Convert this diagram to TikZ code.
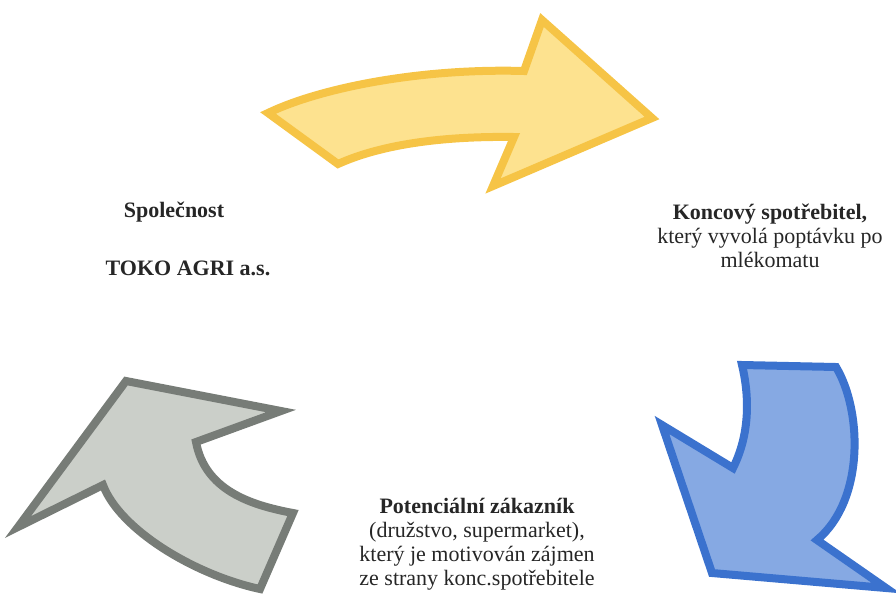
\documentclass[tikz,border=0pt]{standalone}
\usepackage{fontspec}
\setmainfont{LiberationSerif}[Extension=.ttf, UprightFont=*-Regular, BoldFont=*-Bold, ItalicFont=*-Italic, BoldItalicFont=*-BoldItalic]
\definecolor{yelline}{HTML}{F6C446}
\definecolor{yelfill}{HTML}{FDE28F}
\definecolor{blueline}{HTML}{3B72CE}
\definecolor{bluefill}{HTML}{86A9E3}
\definecolor{grayline}{HTML}{777C77}
\definecolor{grayfill}{HTML}{CBCFC9}
\tikzset{
  bigarrow/.style={line width=8pt, line join=miter, miter limit=10},
  lbl/.style={anchor=base, align=center, font=\fontsize{22}{24}\selectfont, inner sep=0pt, text=black!85},
}
\begin{document}
\begin{tikzpicture}[x=1pt,y=-1pt]
\path[use as bounding box] (0,0) rectangle (896,598);
% yellow arrow
\draw[bigarrow, draw=yelline, fill=yelfill]
  (268,113) .. controls (320,88) and (420,68) .. (524,71)
  -- (542,20) -- (652,118) -- (493,186) -- (514,137)
  .. controls (440,136) and (380,145) .. (338,164) -- cycle;
% blue arrow
\draw[bigarrow, draw=blueline, fill=bluefill]
  (742,365) -- (836,367) .. controls (862,410) and (865,500) .. (817,540)
  -- (886,588) -- (712,573) -- (662,425) -- (733,468)
  .. controls (752,430) and (748,390) .. cycle;
% gray arrow
\draw[bigarrow, draw=grayline, fill=grayfill]
  (126,381) -- (281,411) -- (196,442)
  .. controls (205,490) and (250,505) .. (293,513)
  -- (260,589) .. controls (195,575) and (120,530) .. (103,485)
  -- (18,527) -- cycle;
% texts
\node[lbl] (firma1) at (174,217) {\bfseries Společnost};
\node[lbl] (firma2) at (188,275) {\bfseries TOKO AGRI a.s.};
\node[lbl] (konc) at (770,267) {\bfseries Koncový spotřebitel,\\který vyvolá poptávku po\\mlékomatu};
\node[lbl] (zak) at (477,585) {\bfseries Potenciální zákazník\\(družstvo, supermarket),\\který je motivován zájmen\\ze strany konc.spotřebitele};
\end{tikzpicture}
\end{document}
